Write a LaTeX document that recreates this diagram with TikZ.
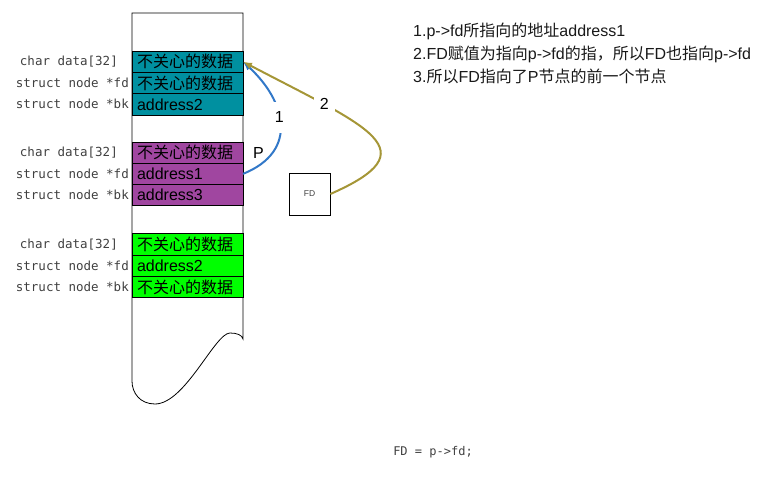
\documentclass[tikz,border=0pt]{standalone}
\usepackage{fontspec}
\setmainfont{Liberation Sans}
\newfontfamily\cjk{Noto Sans CJK SC}
\newfontfamily\codefont{DejaVu Sans Mono}
\usetikzlibrary{arrows.meta, positioning}
\definecolor{chunkteal}{RGB}{0,144,160}
\definecolor{chunkpurple}{RGB}{160,70,160}
\definecolor{chunkgreen}{RGB}{0,255,0}
\definecolor{ptrblue}{RGB}{50,120,200}
\definecolor{ptrolive}{RGB}{165,150,55}
\tikzstyle{cell} = [rectangle, draw=black, line width=0.8pt, minimum height=21.3pt,
                    text width=101pt, inner xsep=5pt, inner ysep=0pt, outer sep=0pt,
                    align=left, font=\fontsize{16}{18}\selectfont]
\tikzstyle{code} = [font=\codefont\fontsize{12.5}{14}\selectfont, text=black!75, inner sep=0pt]
\tikzstyle{note} = [font=\fontsize{16}{18}\selectfont, text=black!90, anchor=base west, inner sep=0pt]
\tikzstyle{tag}  = [font=\fontsize{16}{18}\selectfont, text=black, fill=white]
\tikzstyle{arr}  = [-{Latex[length=9pt, width=7pt]}, line width=2pt]

\begin{document}
\begin{tikzpicture}[x=1pt, y=-1pt]
    \useasboundingbox (0,0) rectangle (780,478);

    % the heap column with its torn-off bottom
    \draw[line width=0.8pt, fill=white] (132,381) -- (132,13) -- (243,13) -- (243,339)
        .. controls (242,335) and (237,333) .. (230,333)
        .. controls (215,333) and (185,404) .. (155,404)
        .. controls (140,404) and (132,393) .. (132,381) -- cycle;

    % first chunk
    \node[cell, fill=chunkteal] (t1) at (187.5,61.7) {{\cjk 不关心的数据}};
    \node[cell, fill=chunkteal, below=0pt of t1] (t2) {{\cjk 不关心的数据}};
    \node[cell, fill=chunkteal, below=0pt of t2] (t3) {address2};
    % chunk P
    \node[cell, fill=chunkpurple, below=27pt of t3] (p1) {{\cjk 不关心的数据}};
    \node[cell, fill=chunkpurple, below=0pt of p1] (p2) {address1};
    \node[cell, fill=chunkpurple, below=0pt of p2] (p3) {address3};
    % third chunk
    \node[cell, fill=chunkgreen, below=28pt of p3] (g1) {{\cjk 不关心的数据}};
    \node[cell, fill=chunkgreen, below=0pt of g1] (g2) {address2};
    \node[cell, fill=chunkgreen, below=0pt of g2] (g3) {{\cjk 不关心的数据}};

    % field names
    \node[code, left=14pt of t1] (t1name) {char data[32]};
    \node[code, left=3pt of t2] (t2name) {struct node *fd};
    \node[code, left=3pt of t3] (t3name) {struct node *bk};
    \node[code, left=14pt of p1] (p1name) {char data[32]};
    \node[code, left=3pt of p2] (p2name) {struct node *fd};
    \node[code, left=3pt of p3] (p3name) {struct node *bk};
    \node[code, left=14pt of g1] (g1name) {char data[32]};
    \node[code, left=3pt of g2] (g2name) {struct node *fd};
    \node[code, left=3pt of g3] (g3name) {struct node *bk};

    \node[font=\fontsize{16}{18}\selectfont, inner sep=0pt, right=10pt of p1] (ptag) {P};
    \node[draw, line width=0.8pt, minimum width=41pt, minimum height=42pt,
          font=\fontsize{8.5}{10}\selectfont, text=black!75] (fd) at (309.5,194) {FD};

    % pointers
    \draw[arr, ptrblue] (p2.east) .. controls +(57,-23) and +(42,38.5) ..
        node[tag, pos=0.55, inner xsep=4pt, inner ysep=10pt] {1} (t1.east);
    \draw[arr, ptrolive] (fd.east) .. controls +(100,-44) and +(127,66.5) ..
        node[tag, pos=0.75, inner xsep=6pt, inner ysep=4pt] {2} (t1.east);

    % notes
    \node[note] (note1) at (413,37) {1.p->fd{\cjk 所指向的地址}address1};
    \node[note] (note2) at (413,60) {2.FD{\cjk 赋值为指向}p->fd{\cjk 的指，所以}FD{\cjk 也指向}p->fd};
    \node[note] (note3) at (413,83) {3.{\cjk 所以}FD{\cjk 指向了}P{\cjk 节点的前一个节点}};

    \node[code, font=\codefont\fontsize{12}{14}\selectfont] (stmt) at (433,452) {FD = p->fd;};
\end{tikzpicture}
\end{document}
